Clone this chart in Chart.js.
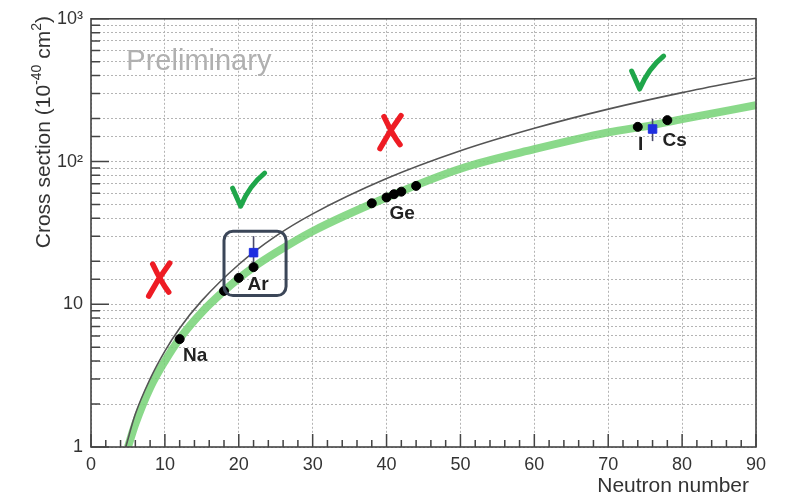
<!DOCTYPE html>
<html>
<head>
<meta charset="utf-8">
<script src="https://cdn.jsdelivr.net/npm/chart.js@4"></script>
<style>
  html, body { margin: 0; padding: 0; background: #fff; }
  #c { display: block; }
</style>
</head>
<body>
<canvas id="c" width="786" height="496"></canvas>
<script>
// nuclei measured / predicted points
const nuclN  = [12, 18, 20, 22, 38, 40, 41, 42, 44, 74, 78];
const nuclXs = [5.7, 12.4, 15.3, 18.2, 51, 56, 59, 61.5, 67.5, 175, 195];

// blue measurements with error bars
const measN     = [22, 76];
const measXs    = [23, 169];
const measErrLo = [4, 30];
const measErrHi = [7, 30];

// black curve
const curveN  = [4.7, 6, 8, 10, 12, 15, 20, 25, 30, 40, 50, 60, 70, 80, 90];
const curveXs = [1.0, 1.7, 3.0, 4.7, 6.8, 10.6, 19, 30, 43, 76, 119, 171, 233, 304, 385];

// green band centre
const bandN  = [5, 6, 8, 10, 12, 15, 18, 20, 22, 25, 30, 40, 50, 60, 70, 76, 80, 90];
const bandXs = [1.0, 1.45, 2.6, 4.0, 5.75, 8.8, 12.4, 15.2, 18.2, 23, 32.5, 56, 89, 122, 160, 180, 198, 248];

const xTicks = [0, 10, 20, 30, 40, 50, 60, 70, 80, 90];
const yLabels = { 1: '1', 10: '10', 100: '10²', 1000: '10³' };

const FONT = "'Liberation Sans', Arial, sans-serif";
const AXIS = '#444';

const pts = (xs, ys) => xs.map((x, i) => ({ x, y: ys[i] }));

// annotation anchors in data units
const tags = [
    { t: 'Na', x: 14.1, y: 4.38 },
    { t: 'Ar', x: 22.6, y: 13.7 },
    { t: 'Ge', x: 42.1, y: 43.4 },
    { t: 'I',  x: 74.4, y: 131 },
    { t: 'Cs', x: 79.0, y: 140 },
];
const checks  = [{ x: 21.2, y: 62 }, { x: 75.2, y: 410 }];
const crosses = [{ x: 9.3, y: 15 }, { x: 40.6, y: 162 }];
const arBox   = { x0: 18.0, x1: 26.4, y0: 11.5, y1: 32.5 };

const errorBars = {
    id: 'errorBars',
    afterDatasetDraw(chart, args) {
        if (args.index !== 2) return;
        const { ctx, scales: { x, y } } = chart;
        ctx.save();
        ctx.strokeStyle = '#4a4a6a';
        ctx.lineWidth = 1.6;
        measN.forEach((n, i) => {
            const px = x.getPixelForValue(n);
            ctx.beginPath();
            ctx.moveTo(px, y.getPixelForValue(measXs[i] + measErrHi[i]));
            ctx.lineTo(px, y.getPixelForValue(measXs[i] - measErrLo[i]));
            ctx.stroke();
        });
        ctx.restore();
    }
};

const frame = {
    id: 'frame',
    afterDraw(chart) {
        const { ctx, chartArea: a, scales: { x, y } } = chart;
        ctx.save();

        // inside ticks
        ctx.strokeStyle = AXIS;
        ctx.lineWidth = 1.5;
        ctx.beginPath();
        y.ticks.forEach(t => {
            const py = y.getPixelForValue(t.value);
            const major = Number.isInteger(Math.log10(t.value));
            ctx.moveTo(a.left, py);
            ctx.lineTo(a.left + (major ? 18 : 9), py);
        });
        for (let v = 0; v <= 90; v += 2) {
            const px = x.getPixelForValue(v);
            ctx.moveTo(px, a.bottom);
            ctx.lineTo(px, a.bottom - (v % 10 === 0 ? 13 : 7));
        }
        ctx.stroke();
        ctx.lineWidth = 1.6;
        ctx.strokeRect(a.left, a.top, a.right - a.left, a.bottom - a.top);

        // Preliminary
        ctx.fillStyle = '#b0b0b0';
        ctx.font = `29px ${FONT}`;
        ctx.textAlign = 'center';
        ctx.textBaseline = 'middle';
        ctx.fillText('Preliminary', x.getPixelForValue(14.6), y.getPixelForValue(498));

        // element labels
        ctx.fillStyle = '#222';
        ctx.font = `bold 19px ${FONT}`;
        tags.forEach(g => ctx.fillText(g.t, x.getPixelForValue(g.x), y.getPixelForValue(g.y)));

        // box around Ar
        const bx0 = x.getPixelForValue(arBox.x0), bx1 = x.getPixelForValue(arBox.x1);
        const by0 = y.getPixelForValue(arBox.y1), by1 = y.getPixelForValue(arBox.y0);
        ctx.strokeStyle = '#3b4658';
        ctx.lineWidth = 3;
        ctx.beginPath();
        ctx.roundRect(bx0, by0, bx1 - bx0, by1 - by0, 9);
        ctx.stroke();

        // check marks
        ctx.lineCap = 'round';
        ctx.lineJoin = 'round';
        ctx.strokeStyle = '#1fa64a';
        ctx.lineWidth = 5;
        checks.forEach(c => {
            const cx = x.getPixelForValue(c.x), cy = y.getPixelForValue(c.y);
            ctx.beginPath();
            ctx.moveTo(cx - 15, cy - 3);
            ctx.lineTo(cx - 7, cy + 15);
            ctx.quadraticCurveTo(cx + 2, cy - 6, cx + 17, cy - 18);
            ctx.stroke();
        });

        // red crosses
        ctx.strokeStyle = '#ee1c24';
        ctx.lineWidth = 5.5;
        crosses.forEach(c => {
            const cx = x.getPixelForValue(c.x), cy = y.getPixelForValue(c.y);
            ctx.beginPath();
            ctx.moveTo(cx + 10, cy - 16);
            ctx.quadraticCurveTo(cx - 2, cy, cx - 11, cy + 17);
            ctx.moveTo(cx - 7, cy - 15);
            ctx.quadraticCurveTo(cx + 2, cy + 4, cx + 9, cy + 13);
            ctx.stroke();
        });

        // axis titles
        ctx.fillStyle = '#333';
        ctx.textBaseline = 'alphabetic';
        ctx.font = `21px ${FONT}`;
        ctx.textAlign = 'right';
        ctx.fillText('Neutron number', a.right - 7, 492);

        ctx.save();
        ctx.translate(50, 16);
        ctx.rotate(-Math.PI / 2);
        const parts = [['Cross section (10', 0], ['-40', 1], [' cm', 0], ['2', 1], [')', 0]];
        const big = `21px ${FONT}`, small = `14px ${FONT}`;
        let w = 0;
        parts.forEach(p => { ctx.font = p[1] ? small : big; w += ctx.measureText(p[0]).width; });
        let px = -w;
        ctx.textAlign = 'left';
        parts.forEach(p => {
            ctx.font = p[1] ? small : big;
            ctx.fillText(p[0], px, p[1] ? -9 : 0);
            px += ctx.measureText(p[0]).width;
        });
        ctx.restore();

        ctx.restore();
    }
};

new Chart(document.getElementById('c'), {
    type: 'scatter',
    data: {
        datasets: [
            { data: pts(nuclN, nuclXs), backgroundColor: '#000', borderColor: '#000', pointRadius: 4.5, pointHoverRadius: 4.5 },
            { data: pts(measN, measXs), backgroundColor: '#1f2fe0', borderColor: '#1f2fe0', pointStyle: 'rect', pointRadius: 6 },
            { data: pts(curveN, curveXs), showLine: true, borderColor: '#555', borderWidth: 1.6, pointRadius: 0, cubicInterpolationMode: 'monotone', clip: 0 },
            { data: pts(bandN, bandXs), showLine: true, borderColor: 'rgba(118,210,118,0.85)', borderWidth: 8, pointRadius: 0, cubicInterpolationMode: 'monotone', clip: 0 },
        ]
    },
    options: {
        responsive: false,
        devicePixelRatio: 1,
        animation: false,
        layout: { padding: { top: 16, right: 30, left: 0, bottom: 0 } },
        plugins: { legend: { display: false }, tooltip: { enabled: false } },
        scales: {
            x: {
                type: 'linear', min: 0, max: 90,
                afterFit: s => { s.height = 49; },
                afterBuildTicks: s => { s.ticks = xTicks.map(v => ({ value: v })); },
                grid: { color: '#b4b4b4', lineWidth: 1, drawTicks: false },
                border: { display: false, dash: [2, 2] },
                ticks: { color: '#333', font: { family: FONT, size: 18 }, padding: 7, maxRotation: 0 }
            },
            y: {
                type: 'logarithmic', min: 1, max: 1000,
                afterFit: s => { s.width = 91; },
                grid: { color: '#b4b4b4', lineWidth: 1, drawTicks: false },
                border: { display: false, dash: [2, 2] },
                ticks: {
                    autoSkip: false, color: '#333', padding: 8,
                    font: { family: FONT, size: 18 },
                    callback: v => yLabels[v] || ''
                }
            }
        }
    },
    plugins: [errorBars, frame]
});
</script>
</body>
</html>
